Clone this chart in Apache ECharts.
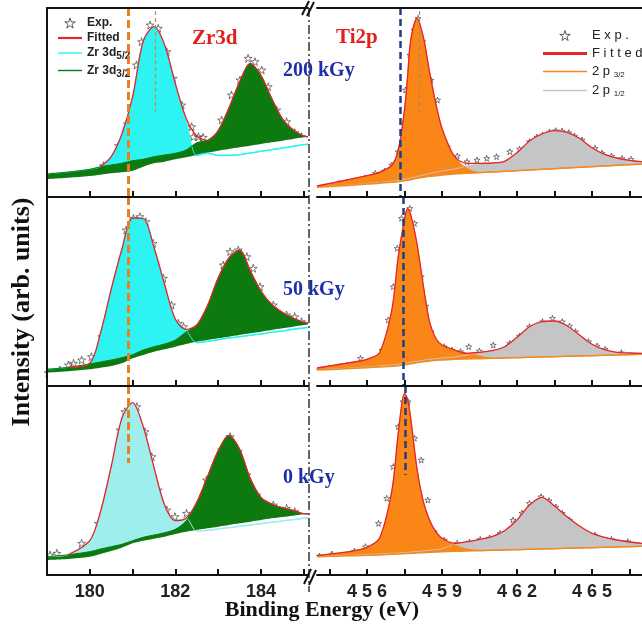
<!DOCTYPE html>
<html lang="en">
<head>
<meta charset="UTF-8" />
<title>Zr3d / Ti2p XPS</title>
<script src="https://cdn.jsdelivr.net/npm/echarts@6/dist/echarts.min.js"></script>
<style>
  html, body { margin: 0; background: #fff; }
  #main { width: 642px; height: 625px; }
</style>
</head>
<body>
<div id="main"></div>
<script>
// ---- data (intensity in arb. units, 0..189 per panel) ----
var doses = ['200 kGy', '50 kGy', '0 kGy'];

var zrE = [179, 179.5, 180, 180.25, 180.5, 180.75, 181, 181.25, 181.5, 181.75, 182, 182.25,
  182.5, 182.75, 183, 183.25, 183.5, 183.75, 184, 184.25, 184.5, 184.75, 185, 185.1];

var zr200GreenLow = [18, 19.3, 21, 22.3, 23.7, 24.7, 26.3, 30.3, 33.7, 35.3, 37.7, 39.7, 42, 44.3, 46.3, 48, 49.7, 51.3, 53, 54.7, 56.3, 58, 59.7, 60.3];
var zr200GreenHigh = [23, 25, 27.7, 30.3, 32, 33.7, 36.3, 37.7, 40.3, 42, 43.7, 47, 54.3, 56.7, 66.3, 88.7, 115, 133.7, 121.7, 98.7, 78.3, 67.3, 61, 60.5];
var zr200Cyan = [23, 25, 27.7, 30.3, 40.3, 63, 100, 156, 170.3, 152, 113.3, 77, 41.5, 43.7, 41.7, 41.7, 42.3, 44, 45.7, 47.3, 49, 50.7, 52.3, 52.8];
var zr200Fit = [null, null, null, 30.3, 40.3, 63, 100, 156, 170.3, 152, 113.3, 79, 61, 56.7, 66.3, 88.7, 115, 133.7, 121.7, 98.7, 78.3, 67.3, 61, 60];

var zr50GreenLow = [13.3, 14.7, 16.7, 18.3, 20, 22.7, 27.7, 31, 34.3, 36.7, 39.3, 42, 44.3, 46, 47.7, 49.3, 51, 52.7, 54.3, 56, 57.7, 59.3, 61, 61.6];
var zr50GreenHigh = [16.7, 18.7, 22, 24, 26, 28.3, 31.3, 36, 39.3, 42, 46, 54, 61, 80.3, 108, 128, 136, 115.3, 95, 81.7, 73.7, 68, 63.7, 63];
var zr50Cyan = [16.7, 18.7, 22.7, 53, 96.7, 136.7, 168, 167.5, 138.7, 101.3, 66.7, 56, 43.3, 44.7, 46.3, 48, 49.3, 50.7, 52, 53.7, 55, 56.7, 58, 58.5];
var zr50Fit = [null, 18.7, 22.7, 53, 96.7, 136.7, 168, 167.5, 138.7, 101.3, 66.7, 56.7, 61, 80.3, 108, 128, 136, 115.3, 95, 81.7, 73.7, 68, 63.7, 63];

var zr0GreenLow = [15, 16, 18.3, 21, 24, 27.3, 31.7, 34.3, 36.3, 38.3, 41, 43.3, 45, 46.7, 48.3, 50, 51.7, 53.3, 55, 56.7, 58, 59.3, 60.7, 61.2];
var zr0GreenHigh = [18.3, 20.3, 23.3, 26, 28.3, 30.7, 34.3, 37.7, 40, 42.3, 45.7, 54, 72.7, 98.3, 124.3, 139.7, 126, 96.7, 77.7, 71, 67.3, 64.7, 61.3, 61.3];
var zr0Cyan = [18.3, 20.3, 34.3, 63.3, 108.3, 156.7, 172.3, 148.3, 107.7, 69.7, 54.3, 56.7, 43.7, 44.7, 46, 47.3, 48.7, 50, 51.3, 52.7, 54, 55.3, 56.7, 57.2];
var zr0Fit = [null, 20.3, 34.3, 63.3, 108.3, 156.7, 172.3, 148.3, 107.7, 69.7, 54.3, 56.7, 72.7, 98.3, 124.3, 139.7, 126, 96.7, 77.7, 71, 67.3, 64.7, 61.3, 61];

var zr200Exp = [[179.11, 20.3], [179.3, 7], [179.54, 15.3], [179.65, 13], [179.81, 16.3], [179.97, 17], [180.16, 17.7], [180.32, 31.3],
  [180.67, 51.3], [180.88, 73], [180.98, 87], [181.09, 132], [181.21, 155.3], [181.41, 172], [181.6, 168.7], [181.8, 145.3],
  [181.95, 118.7], [182.15, 92], [182.38, 70.3], [182.42, 60.3], [182.54, 60.3], [182.65, 59.7], [183.08, 77], [183.31, 102],
  [183.51, 117], [183.7, 138.7], [183.86, 135.3], [184.02, 127], [184.17, 110.3], [184.37, 87], [184.6, 75.3], [184.79, 64.3], [184.95, 60.3]];
var zr50Exp = [[179.03, 13.3], [179.3, 16], [179.5, 21], [179.62, 22.7], [179.81, 26], [180.04, 29.3], [180.28, 49.3], [180.51, 77.7],
  [180.67, 99.3], [180.85, 156], [181.02, 167.7], [181.17, 169.3], [181.31, 164.3], [181.48, 142.7], [181.72, 107.7], [181.91, 81],
  [182.07, 62.7], [182.19, 59.3], [183.12, 121], [183.28, 134.3], [183.47, 136], [183.67, 129.3], [183.82, 117.7], [183.98, 99.3],
  [184.29, 81], [184.6, 71], [184.79, 69.3], [184.95, 64.3]];
var zr0Exp = [[179.07, 20], [179.23, 21.7], [179.42, 12.3], [179.62, 11.7], [179.81, 31.7], [180, 16.7], [180.2, 51.7], [180.39, 70],
  [180.55, 98.3], [180.71, 145], [180.82, 163.3], [181.1, 168.3], [181.29, 143.3], [181.45, 118.3], [181.6, 85], [181.8, 65],
  [181.99, 58.3], [182.26, 61.7], [182.57, 41.7], [182.73, 95], [183.08, 125], [183.28, 138.3], [183.47, 123.3], [183.67, 100],
  [183.9, 80], [184.29, 70], [184.6, 66.7], [184.79, 63.3], [184.91, 58.3]];

var tiE = [454, 455, 455.5, 456, 456.5, 457, 457.25, 457.5, 457.625, 457.75, 458, 458.25, 458.5, 458.75, 459, 459.5,
  460, 460.5, 461, 461.5, 462, 462.5, 463, 463.5, 464, 464.5, 465, 465.5, 466, 466.5, 467];

var ti200Base = [9.7, 11.3, 12, 13, 13.7, 14.7, 15.3, 16.3, 16.8, 17.3, 18.7, 19.7, 20.7, 21.3, 22, 23, 23.7, 24.3, 25, 25.7, 26.3, 27, 27.7, 28.3, 29, 29.7, 30.3, 31, 31.7, 32.3, 33];
var ti200Orange = [11, 16, 18.7, 21.3, 24.7, 32, 47, 87, 121, 157, 178.7, 160.3, 125.3, 93.7, 68.7, 40.3, 28.7, 24.5, 25, 25.7, 26.3, 27, 27.7, 28.3, 29, 29.7, 30.3, 31, 31.7, 32.3, 33];
var ti200Gray = [10, 11.5, 12.3, 13.5, 14.5, 15.8, 16.5, 17.7, 18.3, 19, 20.5, 22, 23.5, 24.7, 26, 28, 31, 33.3, 34, 35.7, 44.3, 56, 63, 66.3, 64.7, 58.7, 49.3, 42.7, 39, 36.7, 35.3];
var ti200Fit = [11, 16, 18.7, 21.3, 24.7, 32, 47, 87, 121, 157, 178.7, 160.3, 125.3, 93.7, 68.7, 40.3, 33.7, 33.7, 34, 35.7, 44.3, 56, 63, 66.3, 64.7, 58.7, 49.3, 42.7, 39, 36.7, 35.3];

var ti50Base = [16, 17, 17.7, 18.3, 19, 19.7, 20.3, 21.3, 21.8, 22.3, 23.3, 24.3, 25, 25.7, 26, 26.7, 27, 27.3, 27.7, 28, 28.3, 28.7, 29, 29.3, 29.7, 30, 30.3, 30.7, 31, 31.3, 31.7];
var ti50Orange = [18, 22, 24, 26.7, 33.3, 77, 129.3, 166.7, 177.7, 171.3, 142, 101, 64.3, 47.7, 41, 36, 32.7, 30, 27.7, 28, 28.3, 28.7, 29, 29.3, 29.7, 30, 30.3, 30.7, 31, 31.3, 31.7];
var ti50Gray = [16.3, 17.5, 18.3, 19, 20, 21, 21.7, 22.7, 23.2, 23.7, 24.7, 25.7, 26.7, 27.3, 28, 29, 31, 33.7, 35.3, 39.3, 48.7, 59.3, 64.3, 65, 60.3, 51, 41.7, 36.3, 33.7, 33, 32.7];
var ti50Fit = [18, 22, 24, 26.7, 33.3, 77, 129.3, 166.7, 177.7, 171.3, 142, 101, 64.3, 47.7, 41, 36, 32.7, 33.7, 35.3, 39.3, 48.7, 59.3, 64.3, 65, 60.3, 51, 41.7, 36.3, 33.7, 33, 32.7];

var ti0Base = [18.3, 19, 19.3, 19.7, 20, 20.7, 21, 21.3, 21.5, 21.7, 22, 22.3, 22.7, 23, 23.3, 23.7, 24, 24.3, 24.7, 25, 25.3, 25.7, 26, 26.3, 26.7, 27, 27.3, 27.7, 28, 28.3, 28.7];
var ti0Orange = [19.3, 22.3, 24.3, 27.7, 36.7, 85, 141.7, 181.7, 175.7, 156.3, 106, 73.7, 55, 43.3, 36.7, 30, 26, 24.7, 24.7, 25, 25.3, 25.7, 26, 26.3, 26.7, 27, 27.3, 27.7, 28, 28.3, 28.7];
var ti0Gray = [18.6, 19.5, 20, 20.5, 21, 21.7, 22, 22.5, 22.7, 23, 23.5, 24, 24.7, 25.3, 26, 31, 33.3, 35.7, 38.3, 44.3, 55, 70, 77.7, 69, 58.3, 49, 41.7, 37.7, 35, 33, 31.7];
var ti0Fit = [19.3, 22.3, 24.3, 27.7, 36.7, 85, 141.7, 181.7, 175.7, 156.3, 106, 73.7, 55, 43.3, 36.7, 31.7, 33.3, 35.7, 38.3, 44.3, 55, 70, 77.7, 69, 58.3, 49, 41.7, 37.7, 35, 33, 31.7];

var ti200Exp = [[454.23, 8.7], [454.6, 11], [454.89, 13.7], [455.2, 15], [455.54, 15.3], [455.9, 19], [456.33, 23.7], [456.7, 26],
  [456.99, 32], [457.25, 45.3], [457.54, 107], [457.71, 142], [457.88, 167], [458.04, 178.7], [458.23, 155.3], [458.56, 117],
  [458.82, 97], [459.22, 50.3], [459.61, 41], [460, 35.3], [460.4, 37], [460.79, 38.7], [461.18, 40.3], [461.71, 45.3],
  [462.1, 48], [462.5, 55.3], [462.8, 60], [463.02, 62], [463.3, 65], [463.55, 66.3], [463.8, 66], [464.07, 64.3], [464.3, 61],
  [464.6, 57], [465.12, 48.7], [465.4, 44], [465.78, 41], [466.2, 38.5], [466.56, 37.7]];
var ti50Exp = [[454.1, 16], [454.5, 18], [454.89, 19.3], [455.2, 21], [455.54, 17.7], [455.74, 27.7], [456.33, 16], [456.6, 36],
  [456.85, 66], [457.05, 99.3], [457.21, 137.7], [457.38, 167.7], [457.71, 177.7], [457.9, 162.7], [458.17, 109.3], [458.35, 80],
  [458.56, 54.3], [459.09, 39.3], [459.4, 36], [459.74, 34.3], [460.07, 39.3], [460.5, 35], [461.05, 41], [461.71, 42.7],
  [462.1, 50], [462.5, 59.3], [463.02, 64.3], [463.42, 67.7], [463.81, 64.3], [464.1, 60], [464.34, 54.3], [464.86, 44.3],
  [465.2, 40], [465.52, 36.7], [466.17, 33.3], [466.63, 27.7]];
var ti0Exp = [[454.1, 19], [454.6, 21], [455.02, 15], [455.5, 24], [455.94, 28.3], [456.46, 51.7], [456.79, 76.7], [457.05, 108.3],
  [457.25, 148.3], [457.44, 173.3], [457.64, 173.3], [457.9, 136.7], [458.17, 115], [458.43, 75], [458.69, 43.3], [459.09, 35],
  [459.61, 31.7], [460.1, 33], [460.53, 35.7], [460.9, 37], [461.32, 41.7], [461.84, 55], [462.2, 62], [462.5, 71.7], [462.96, 78.3],
  [463.28, 74.3], [463.55, 68], [463.81, 61.7], [464.1, 55], [464.47, 46.7], [465.12, 40], [465.78, 35.7], [466.43, 33.3]];

var zrTicks = [180, 181, 182, 183, 184, 185];
var zrLabels = [180, 182, 184];
var tiTicks = [454.5, 456, 457.5, 459, 460.5, 462, 463.5, 465, 466.5];
var tiLabels = [456, 459, 462, 465];

// guide lines (binding energy of the dashed markers)
var zrGuide = 180.9, zrGuideStop = [0, 0, 112], zrPeak200 = 181.52;
var tiGuide = [457.31, 457.44, 457.51], tiGuideStop = [0, 0, 100], tiPeak200 = 458.1;

var zrCyan = [zr200Cyan, zr50Cyan, zr0Cyan];
var zrGreenHigh = [zr200GreenHigh, zr50GreenHigh, zr0GreenHigh];
var zrGreenLow = [zr200GreenLow, zr50GreenLow, zr0GreenLow];
var zrFit = [zr200Fit, zr50Fit, zr0Fit];
var zrExp = [zr200Exp, zr50Exp, zr0Exp];
var tiBase = [ti200Base, ti50Base, ti0Base];
var tiOrange = [ti200Orange, ti50Orange, ti0Orange];
var tiGray = [ti200Gray, ti50Gray, ti0Gray];
var tiFit = [ti200Fit, ti50Fit, ti0Fit];
var tiExp = [ti200Exp, ti50Exp, ti0Exp];

// ---- styles ----
var RED = '#e4252a', GREEN = '#0d7a10', ORANGE = '#fb8618', GRAY = '#c5c5c5';
var cyanColors = ['#2ef3f3', '#2ef3f3', '#9eeeee'];
var STAR = 'path://M50,0 L61,35 98,35 68,57 79,91 50,70 21,91 32,57 2,35 39,35Z';
var rowTop = [8, 197, 386];

function pts(xs, ys, from) {
  var out = [];
  for (var i = from || 0; i < xs.length; i++) {
    if (ys[i] != null) out.push([xs[i], ys[i]]);
  }
  return out;
}

function area(name, g, data, fill, line, lw) {
  return {
    type: 'line', name: name, xAxisIndex: g, yAxisIndex: g, data: data,
    smooth: 0.3, symbol: 'none', silent: true,
    lineStyle: { color: line, width: lw },
    itemStyle: { color: line },
    areaStyle: { color: fill, opacity: 1 }
  };
}

function curve(name, g, data, color, lw) {
  return {
    type: 'line', name: name, xAxisIndex: g, yAxisIndex: g, data: data,
    smooth: 0.3, symbol: 'none', silent: true,
    lineStyle: { color: color, width: lw }, itemStyle: { color: color }
  };
}

function guide(x, y1, y2, color, width, dash) {
  return [{ coord: [x, y1], lineStyle: { color: color, width: width, type: dash } }, { coord: [x, y2] }];
}

function stars(g, data, size, marks) {
  return {
    type: 'scatter', name: 'Exp.', xAxisIndex: g, yAxisIndex: g, data: data,
    symbol: STAR, symbolSize: size, silent: true,
    itemStyle: { color: 'rgba(255,255,255,0)', borderColor: '#333', borderWidth: 0.8 },
    markLine: { silent: true, symbol: 'none', label: { show: false }, data: marks }
  };
}

var series = [];
for (var r = 0; r < 3; r++) {
  var gl = r * 2, gr = r * 2 + 1;
  // Zr 3d (left)
  series.push(area('Zr 3d5/2', gl, pts(zrE, zrCyan[r]), cyanColors[r], cyanColors[r], 1));
  series.push(area('Zr 3d3/2', gl, pts(zrE, zrGreenHigh[r]), GREEN, GREEN, 1));
  series.push(area('', gl, pts(zrE, zrGreenLow[r]), '#fff', '#fff', 0));
  series.push(curve('', gl, pts(zrE, zrCyan[r], 12), cyanColors[r], 1.5));
  series.push(curve('Fitted', gl, pts(zrE, zrFit[r]), RED, 1.3));
  var zm = [guide(zrGuide, 189, zrGuideStop[r], '#e9801f', 3, [8, 4])];
  if (r === 0) zm.push(guide(zrPeak200, 186, 85, '#c98a3e', 1.2, [4, 3]));
  series.push(stars(gl, zrExp[r], 8, zm));

  // Ti 2p (right)
  series.push(area('2p1/2', gr, pts(tiE, tiGray[r]), GRAY, GRAY, 1));
  series.push(area('2p3/2', gr, pts(tiE, tiOrange[r]), ORANGE, ORANGE, 1));
  series.push(area('', gr, pts(tiE, tiBase[r]), '#fff', '#f08a24', 1.5));
  series.push(curve('Fitted', gr, pts(tiE, tiFit[r]), RED, 1.3));
  var tm = [guide(tiGuide[r], 189, tiGuideStop[r], '#1e3f86', 2.5, [7, 4])];
  if (r === 0) tm.push(guide(tiPeak200, 186, 85, '#a88a5a', 1.2, [4, 3]));
  series.push(stars(gr, tiExp[r], 6, tm));
}

var grids = [], xAxes = [], yAxes = [];
var labelStyle = { fontFamily: 'Liberation Sans', fontWeight: 'bold', fontSize: 18, color: '#222', margin: 8 };
for (var r2 = 0; r2 < 3; r2++) {
  for (var c = 0; c < 2; c++) {
    var gi = r2 * 2 + c;
    grids.push(c === 0
      ? { left: 47, top: rowTop[r2], width: 261, height: 189 }
      : { left: 317, top: rowTop[r2], width: 330, height: 189 });
    xAxes.push({
      gridIndex: gi, type: 'value', position: 'bottom', z: 10,
      min: c === 0 ? 179 : 454, max: c === 0 ? 185.1 : 467,
      axisLine: { lineStyle: { color: '#111', width: 2 } },
      axisTick: { inside: true, length: 6, lineStyle: { color: '#111', width: 2 },
        customValues: c === 0 ? zrTicks : tiTicks },
      axisLabel: Object.assign({
        show: r2 === 2,
        customValues: c === 0 ? zrLabels : tiLabels,
        formatter: c === 0 ? '{value}' : function (v) { return String(v).split('').join(' '); }
      }, labelStyle),
      splitLine: { show: false }
    });
    yAxes.push({
      gridIndex: gi, type: 'value', min: 0, max: 189, z: 10,
      axisLine: { show: c === 0, lineStyle: { color: '#111', width: 2 } },
      axisTick: { show: false }, axisLabel: { show: false }, splitLine: { show: false }
    });
  }
}
// top frame of the upper panels
[0, 1].forEach(function (gi) {
  xAxes.push({
    gridIndex: gi, type: 'value', position: 'top', z: 10,
    min: gi === 0 ? 179 : 454, max: gi === 0 ? 185.1 : 467,
    axisLine: { lineStyle: { color: '#111', width: 2 } },
    axisTick: { show: false }, axisLabel: { show: false }, splitLine: { show: false }
  });
});

var subRich = function (size, bold) {
  return { s: { fontSize: size, fontWeight: bold ? 'bold' : 'normal', fontFamily: 'Liberation Sans', color: '#222', padding: [7, 0, 0, 0] } };
};
var starIcon = { icon: STAR, itemStyle: { color: 'rgba(255,255,255,0)', borderColor: '#333', borderWidth: 1 } };
function lineIcon(name, w, h) {
  return { name: name, icon: 'path://M0,0H' + w + 'V' + h + 'H0Z' };
}

var option = {
  animation: false,
  backgroundColor: '#fff',
  grid: grids,
  xAxis: xAxes,
  yAxis: yAxes,
  legend: [
    {
      left: 53, top: 12, orient: 'vertical', itemWidth: 24, itemHeight: 10, itemGap: 3,
      selectedMode: false,
      data: [Object.assign({ name: 'Exp.' }, starIcon), lineIcon('Fitted', 24, 2.2),
        lineIcon('Zr 3d5/2', 24, 1.4), lineIcon('Zr 3d3/2', 24, 1.4)],
      formatter: function (n) {
        if (n === 'Zr 3d5/2') return 'Zr 3d{s|5/2}';
        if (n === 'Zr 3d3/2') return 'Zr 3d{s|3/2}';
        return n;
      },
      textStyle: { fontFamily: 'Liberation Sans', fontWeight: 'bold', fontSize: 12, color: '#222', rich: subRich(10, true) }
    },
    {
      left: 538, top: 24, orient: 'vertical', itemWidth: 44, itemHeight: 10, itemGap: 5,
      selectedMode: false,
      data: [Object.assign({ name: 'Exp.' }, starIcon), lineIcon('Fitted', 44, 3),
        lineIcon('2p3/2', 44, 1.5), lineIcon('2p1/2', 44, 1.5)],
      formatter: function (n) {
        if (n === '2p3/2') return '2 p {s|3/2}';
        if (n === '2p1/2') return '2 p {s|1/2}';
        return n.split('').join(' ');
      },
      textStyle: { fontFamily: 'Liberation Sans', fontSize: 13, color: '#222', rich: subRich(8, false) }
    }
  ],
  graphic: [
    { type: 'line', z: 1, shape: { x1: 309, y1: 8, x2: 309, y2: 592 },
      style: { stroke: '#333', lineWidth: 1.5, lineDash: [9, 3, 2, 3] } },
    { type: 'line', z: 20, shape: { x1: 302, y1: 15, x2: 309, y2: 1 }, style: { stroke: '#111', lineWidth: 2 } },
    { type: 'line', z: 20, shape: { x1: 307, y1: 16, x2: 314, y2: 2 }, style: { stroke: '#111', lineWidth: 2 } },
    { type: 'line', z: 20, shape: { x1: 304, y1: 584, x2: 311, y2: 569 }, style: { stroke: '#111', lineWidth: 2 } },
    { type: 'line', z: 20, shape: { x1: 309, y1: 585, x2: 316, y2: 570 }, style: { stroke: '#111', lineWidth: 2 } },
    { type: 'text', z: 20, x: 192, y: 39, style: { text: 'Zr3d', fill: '#e0201c', fontFamily: 'Liberation Serif', fontWeight: 'bold', fontSize: 21, verticalAlign: 'middle' } },
    { type: 'text', z: 20, x: 336, y: 38, style: { text: 'Ti2p', fill: '#e0201c', fontFamily: 'Liberation Serif', fontWeight: 'bold', fontSize: 21, verticalAlign: 'middle' } },
    { type: 'text', z: 20, x: 283, y: 71, style: { text: doses[0], fill: '#1c2fa6', fontFamily: 'Liberation Serif', fontWeight: 'bold', fontSize: 20, verticalAlign: 'middle' } },
    { type: 'text', z: 20, x: 283, y: 290, style: { text: doses[1], fill: '#1c2fa6', fontFamily: 'Liberation Serif', fontWeight: 'bold', fontSize: 20, verticalAlign: 'middle' } },
    { type: 'text', z: 20, x: 283, y: 478, style: { text: doses[2], fill: '#1c2fa6', fontFamily: 'Liberation Serif', fontWeight: 'bold', fontSize: 20, verticalAlign: 'middle' } },
    { type: 'text', z: 20, x: 322, y: 610, style: { text: 'Binding Energy (eV)', fill: '#111', fontFamily: 'Liberation Serif', fontWeight: 'bold', fontSize: 22, align: 'center', verticalAlign: 'middle' } },
    { type: 'text', z: 20, x: 22, y: 312, rotation: Math.PI / 2, style: { text: 'Intensity (arb. units)', fill: '#111', fontFamily: 'Liberation Serif', fontWeight: 'bold', fontSize: 26, align: 'center', verticalAlign: 'middle' } }
  ],
  series: series
};

var myChart = echarts.init(document.getElementById('main'));
myChart.setOption(option);
</script>
</body>
</html>
